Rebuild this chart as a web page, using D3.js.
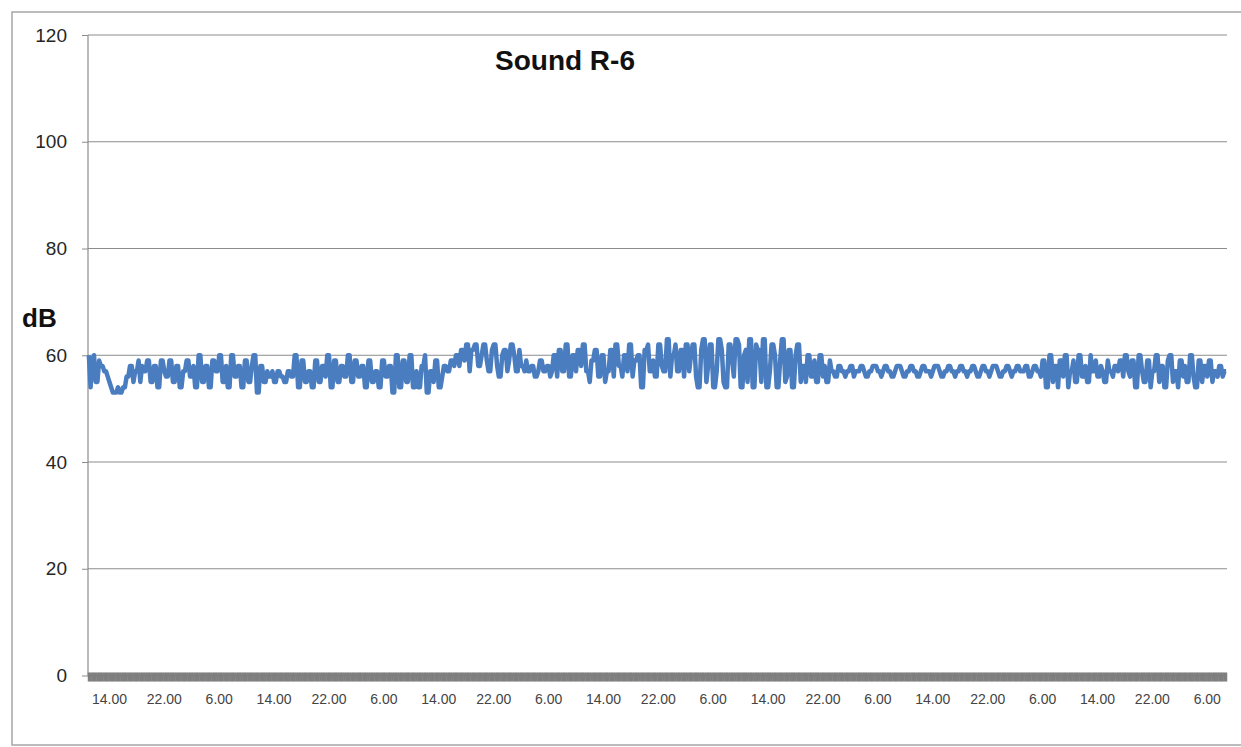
<!DOCTYPE html>
<html>
<head>
<meta charset="utf-8">
<script src="https://cdn.jsdelivr.net/npm/d3@7"></script>
<style>
    body { margin: 0; background: #fff; }
    svg { display: block; font-family: "Liberation Sans", Arial, sans-serif; }
</style>
</head>
<body>
<svg id="chart" width="1241" height="747"></svg>
<script>
const chartTitle = "Sound R-6";
const yTitle = "dB";
const yTicks = [0, 20, 40, 60, 80, 100, 120];

// one label every 32 quarter-hour readings (8 h), first one on reading 12
const tickLabels = ["14.00", "22.00", "6.00", "14.00", "22.00", "6.00", "14.00",
    "22.00", "6.00", "14.00", "22.00", "6.00", "14.00", "22.00", "6.00",
    "14.00", "22.00", "6.00", "14.00", "22.00", "6.00"];
const labelStart = 12;
const labelEvery = 32;

// dB readings, 32 per 8 hours
const sound = [
    60,54,59,60,55,55,59,58,58,57,57,56,55,54,53,53,53,54,53,53,54,54,56,56,58,58,55,57,57,59,55,58,
    57,57,59,59,55,55,58,58,54,54,59,59,57,56,56,59,59,55,55,58,58,54,54,57,57,59,59,56,56,58,54,54,
    60,60,55,55,58,58,54,54,59,59,57,57,60,60,55,55,58,54,54,60,60,56,56,58,58,54,54,59,59,55,55,58,
    60,60,53,53,58,58,55,55,57,56,56,57,55,55,57,57,56,56,55,55,57,57,56,56,60,60,54,54,59,59,55,55,
    57,57,54,54,59,59,55,55,58,58,56,60,60,54,54,59,59,55,55,58,58,56,56,60,60,55,55,59,59,56,56,58,
    58,54,54,59,59,55,55,57,57,54,54,59,59,56,56,58,58,53,53,60,60,54,54,59,59,55,55,60,60,54,54,57,
    54,54,58,58,60,53,53,57,57,55,59,59,54,54,56,58,58,57,57,59,59,58,60,60,58,61,61,59,62,62,57,61,
    61,62,62,58,58,60,62,62,59,57,57,61,62,62,58,56,56,60,61,61,57,59,62,62,60,57,57,61,58,58,57,59,
    57,57,58,58,56,56,57,59,59,57,57,58,58,56,57,60,60,56,61,61,57,57,62,62,56,56,60,60,57,61,61,58,
    62,62,57,57,55,59,59,61,61,56,56,60,60,55,57,57,61,61,56,62,62,58,58,56,60,60,57,62,62,56,59,59,
    60,60,54,54,61,61,62,57,57,59,56,56,62,62,58,57,57,63,63,56,60,60,62,57,57,61,61,56,62,62,57,60,
    62,62,56,54,54,61,63,63,55,58,62,62,54,54,57,63,63,61,55,54,54,62,62,59,56,63,63,62,54,54,60,61,
    55,63,63,54,54,62,61,61,55,63,63,54,54,57,62,62,60,54,54,59,63,63,55,56,61,61,54,54,60,62,62,55,
    58,58,55,60,60,56,56,59,55,55,60,60,56,58,55,55,59,57,57,56,56,58,58,57,57,56,57,57,58,58,56,57,
    57,57,58,58,57,56,56,57,57,58,58,58,57,57,56,57,58,58,57,57,56,56,57,58,58,58,57,56,56,57,57,58,
    58,57,57,56,56,57,58,58,57,57,57,56,57,58,58,58,57,56,56,57,57,58,58,57,57,56,57,57,58,58,57,57,
    56,57,57,58,58,57,56,56,57,58,58,57,57,56,57,58,58,58,57,56,56,57,57,58,58,57,56,57,57,58,58,57,
    57,57,58,58,56,56,57,58,58,57,57,56,59,59,54,54,60,60,55,58,58,54,59,59,56,60,60,54,57,57,59,55,
    55,60,60,56,56,58,55,55,60,57,57,59,56,56,58,57,55,55,59,57,57,56,58,58,57,59,59,56,60,60,57,56,
    59,59,54,54,60,60,57,55,55,59,59,54,57,57,60,60,55,58,58,54,54,59,60,60,55,57,57,54,59,59,56,58,
    55,55,60,60,56,54,54,59,59,55,58,58,56,59,59,55,57,57,56,58,58,56,57,57
];

let margin = {top: 35, right: 14, bottom: 71.5, left: 88}
    , width = 1241 - margin.left - margin.right
    , height = 747 - margin.top - margin.bottom;

let svg = d3.select("#chart");

// outer chart frame
svg.append("rect")
    .attr("x", 12).attr("y", 12)
    .attr("width", 1260).attr("height", 733)
    .style("fill", "none")
    .style("stroke", "#a6a6a6")
    .style("stroke-width", 1.5);

let g = svg.append("g")
    .attr("transform", "translate(" + margin.left + "," + margin.top + ")");

let xScale = d3.scaleBand()
    .domain(d3.range(sound.length))
    .range([0, width]);

let yScale = d3.scaleLinear()
    .domain([0, 120])
    .range([height, 0]);

// horizontal gridlines + y labels
let yAxis = g.append("g")
    .call(d3.axisLeft(yScale).tickValues(yTicks).tickSize(6).tickPadding(15));
yAxis.select(".domain").remove();
yAxis.selectAll(".tick line").style("stroke", "#8c8c8c");
yAxis.selectAll(".tick text")
    .style("font-size", "19px")
    .style("fill", "#262626")
    .style("font-family", "'Liberation Sans', Arial, sans-serif");

g.append("g")
    .selectAll("line")
    .data(yTicks.filter(d => d > 0))
    .enter().append("line")
    .attr("x1", 0).attr("x2", width)
    .attr("y1", d => yScale(d)).attr("y2", d => yScale(d))
    .style("stroke", "#8c8c8c")
    .style("stroke-width", 1);

g.append("line")
    .attr("x1", 0).attr("x2", 0)
    .attr("y1", 0).attr("y2", height)
    .style("stroke", "#8c8c8c")
    .style("stroke-width", 1.2);

// category axis: a tick per reading, so dense it reads as a band
let xAxis = g.append("g")
    .attr("transform", "translate(0," + (height - 3) + ")")
    .call(d3.axisBottom(xScale)
        .tickSize(9)
        .tickPadding(13)
        .tickFormat(function (d) {
            if (d < labelStart || (d - labelStart) % labelEvery) return "";
            return tickLabels[(d - labelStart) / labelEvery] || "";
        }));
xAxis.select(".domain").remove();
xAxis.selectAll(".tick line")
    .style("stroke", "#7f7f7f")
    .style("stroke-width", 2.2);
xAxis.selectAll(".tick text")
    .style("font-size", "14px")
    .style("fill", "#444")
    .style("font-family", "'Liberation Sans', Arial, sans-serif");

g.append("line")
    .attr("x1", 0).attr("x2", width)
    .attr("y1", height).attr("y2", height)
    .style("stroke", "#7f7f7f")
    .style("stroke-width", 2);

// the series
let line = d3.line()
    .x((d, i) => xScale(i) + xScale.bandwidth() / 2)
    .y(d => yScale(d));

g.append("path")
    .datum(sound)
    .attr("d", line)
    .style("fill", "none")
    .style("stroke", "#4a7dbf")
    .style("stroke-width", 4.5)
    .style("stroke-linejoin", "round");

// titles
svg.append("text")
    .attr("x", 495).attr("y", 70)
    .style("font-size", "28px")
    .style("font-weight", "bold")
    .style("fill", "#111")
    .text(chartTitle);

svg.append("text")
    .attr("x", 22).attr("y", 327)
    .style("font-size", "26px")
    .style("font-weight", "bold")
    .style("fill", "#111")
    .text(yTitle);
</script>
</body>
</html>
